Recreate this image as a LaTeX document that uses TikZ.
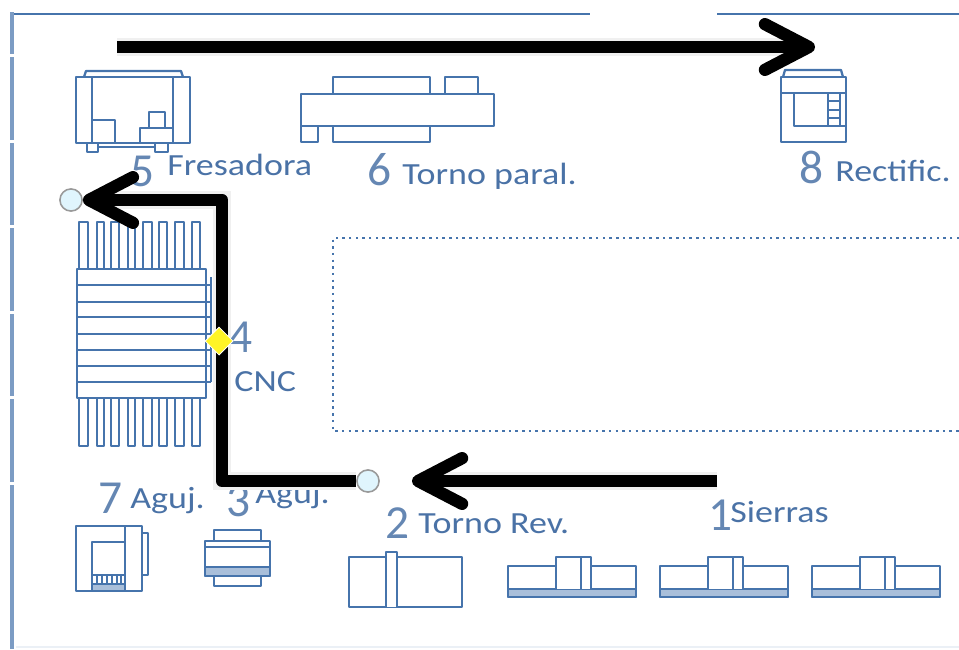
\documentclass[tikz,border=0pt]{standalone}
\usepackage{fontspec}
\setmainfont{Carlito}
\newfontfamily\lblfont[FakeStretch=1.17]{Carlito}
\usepackage{xcolor}
\usepackage{tikz}
\usetikzlibrary{arrows.meta,positioning,shapes.geometric}
\definecolor{machblue}{HTML}{4674AC}
\definecolor{wallblue}{HTML}{7C9CC4}
\definecolor{textblue}{HTML}{4A72A6}
\definecolor{stripblue}{HTML}{A9BFDA}
\tikzset{
  machine/.style={draw=machblue,line width=1.3pt,line join=round},
  strip/.style={machine,fill=stripblue},
  wall/.style={draw=wallblue,line width=2.8pt},
  wallthin/.style={draw=machblue,line width=1.3pt},
  wallfaint/.style={draw=wallblue!15,line width=1.1pt},
  aisle/.style={draw=machblue,line width=1.3pt,dash pattern=on 1.4pt off 2.4pt},
  flow/.style={draw=black,line width=7pt,line join=round,
    preaction={draw=black!6,line width=10pt,shorten >=8pt,-},
    -{Straight Barb[length=25pt,width=26pt,round]}},
  handle/.style={circle,draw=gray!80,line width=0.9pt,fill=cyan!12,minimum size=12.6pt,inner sep=0pt},
  midpoint/.style={diamond,draw=white,line width=0.5pt,fill=yellow!85!white,minimum size=16pt,inner sep=0pt},
  num/.style={text=textblue!85,font=\fontsize{27}{27}\selectfont,anchor=base west,inner sep=0pt},
  lbl/.style={text=textblue,font=\lblfont\fontsize{17.5}{18}\selectfont,anchor=base west,inner sep=0pt},
}
\begin{document}
\begin{tikzpicture}[x=0.02cm,y=-0.02cm]
  \useasboundingbox (0,0) rectangle (959,649);

  % Walls of the workshop
  \draw[wallthin] (12,14) -- (590,14);
  \draw[wallthin] (717,14) -- (959,14);
  \draw[wall] (12,12) -- (12,54);
  \draw[wall] (12,57) -- (12,140);
  \draw[wall] (12,143) -- (12,225);
  \draw[wall] (12,228) -- (12,311);
  \draw[wall] (12,314) -- (12,396);
  \draw[wall] (12,399) -- (12,482);
  \draw[wall] (12,485) -- (12,649);
  \draw[wallfaint] (16,647) -- (959,647);
  \draw[aisle] (959,238) -- (333,238) -- (333,431) -- (959,431);

  % Fresadora
  \draw[machine] (76,77) rectangle (190,143);
  \draw[machine] (84,77) -- (86,71) -- (181,71) -- (183,77);
  \draw[machine] (92,77) -- (92,143);
  \draw[machine] (173,77) -- (173,143);
  \draw[machine] (92,120) -- (115,120) -- (115,143);
  \draw[machine] (140,143) -- (140,128) -- (173,128);
  \draw[machine] (149,128) -- (149,112) -- (165,112) -- (165,128);
  \draw[machine] (87,143) rectangle (98,152);
  \draw[machine] (155,143) rectangle (168,152);
  \draw[machine] (98,147) -- (155,147);

  % Torno paralelo
  \draw[machine] (301,94) rectangle (494,126);
  \draw[machine] (333,94) -- (333,77) -- (430,77) -- (430,94);
  \draw[machine] (445,94) -- (445,77) -- (478,77) -- (478,94);
  \draw[machine] (333,126) -- (333,142) -- (430,142) -- (430,126);
  \draw[machine] (301,126) -- (301,142) -- (318,142) -- (318,126);

  % Rectificadora
  \draw[machine] (781,77) rectangle (846,142);
  \draw[machine] (783,77) -- (785,70) -- (841,70) -- (843,77);
  \draw[machine] (781,93) -- (846,93);
  \draw[machine] (794,93) -- (794,126) -- (846,126);
  \draw[machine] (828,93) -- (828,126);
  \draw[machine] (840,93) -- (840,126);
  \draw[machine] (828,101) -- (840,101);
  \draw[machine] (828,110) -- (840,110);
  \draw[machine] (828,118) -- (840,118);

  % CNC
  \foreach \fx/\fw in {79/9,97/7,111/8,128/7,143/9,159/8,175/9,192/8} {
    \draw[machine] (\fx,269) -- (\fx,222) -- (\fx+\fw,222) -- (\fx+\fw,269);
    \draw[machine] (\fx,398) -- (\fx,446) -- (\fx+\fw,446) -- (\fx+\fw,398);
  }
  \draw[machine,fill=white] (77,269) rectangle (206,398);
  \foreach \ly in {285,302,317,334,350,366,382}
    \draw[machine] (77,\ly) -- (211,\ly);
  \draw[machine] (211,277) -- (211,382);

  % Aguj. 7
  \draw[machine] (76,526) rectangle (142,591);
  \draw[machine] (142,533) -- (148,533) -- (148,575) -- (142,575);
  \draw[machine] (125,526) -- (125,591);
  \draw[machine] (92,591) -- (92,542) -- (125,542);
  \draw[machine] (92,575) -- (125,575);
  \draw[strip] (92,584) rectangle (125,591);
  \foreach \tx in {97,102,107,112,117,121}
    \draw[machine,line width=0.7pt] (\tx,575) -- (\tx,584);

  % Aguj. 3
  \draw[machine] (205,541) rectangle (270,576);
  \draw[machine] (214,541) -- (214,530) -- (261,530) -- (261,541);
  \draw[machine] (214,576) -- (214,586) -- (261,586) -- (261,576);
  \draw[machine] (205,547) -- (270,547);
  \draw[strip] (205,567) rectangle (270,576);

  % Torno revolver
  \draw[machine] (349,557) rectangle (462,607);
  \draw[machine,fill=white] (386,607) -- (386,552) -- (397,552) -- (397,607);

  % Sierras
  \foreach \sx in {508,660,812} {
    \draw[machine] (\sx,566) rectangle (\sx+128,597);
    \draw[strip] (\sx,589) rectangle (\sx+128,597);
    \draw[machine,fill=white] (\sx+48,589) -- (\sx+48,557) -- (\sx+83,557) -- (\sx+83,589);
    \draw[machine] (\sx+73,557) -- (\sx+73,589);
  }

  % Labels
  \node[num] (numFive) at (130,186) {5};
  \node[lbl] (lblFive) at (167,175) {Fresadora};
  \node[num] (numSix) at (367,185) {6};
  \node[lbl] (lblSix) at (402,184) {Torno paral.};
  \node[num] (numEight) at (799,183) {8};
  \node[lbl] (lblEight) at (835,181) {Rectific.};
  \node[num] (numFour) at (228,352) {4};
  \node[lbl] (lblFour) at (234,391) {CNC};
  \node[num] (numSeven) at (98,513) {7};
  \node[lbl] (lblSeven) at (130,508) {Aguj.};
  \node[num] (numThree) at (226,516) {3};
  \node[lbl] (lblThree) at (255,503) {Aguj.};
  \node[num] (numTwo) at (385,538) {2};
  \node[lbl] (lblTwo) at (418,533) {Torno Rev.};
  \node[num] (numOne) at (708,530) {1};
  \node[lbl] (lblOne) at (730,522) {Sierras};

  % Flow arrows
  \coordinate (startTop) at (117,47);
  \coordinate (endTop) at (815,47);
  \coordinate (startLow) at (717,481);
  \coordinate (endLow) at (412,481);
  \coordinate (bendLow) at (222,481);
  \coordinate (bendUp) at (222,200);
  \node[handle] (hndLow) at (368,481) {};
  \node[handle] (hndUp) at (71,200) {};
  \draw[flow] (startTop) -- (endTop);
  \draw[flow] (startLow) -- (endLow);
  \draw[flow] (hndLow) -- (bendLow) -- (bendUp) -- (hndUp);
  \node[midpoint] (hndMid) at (219,341) {};
\end{tikzpicture}
\end{document}
